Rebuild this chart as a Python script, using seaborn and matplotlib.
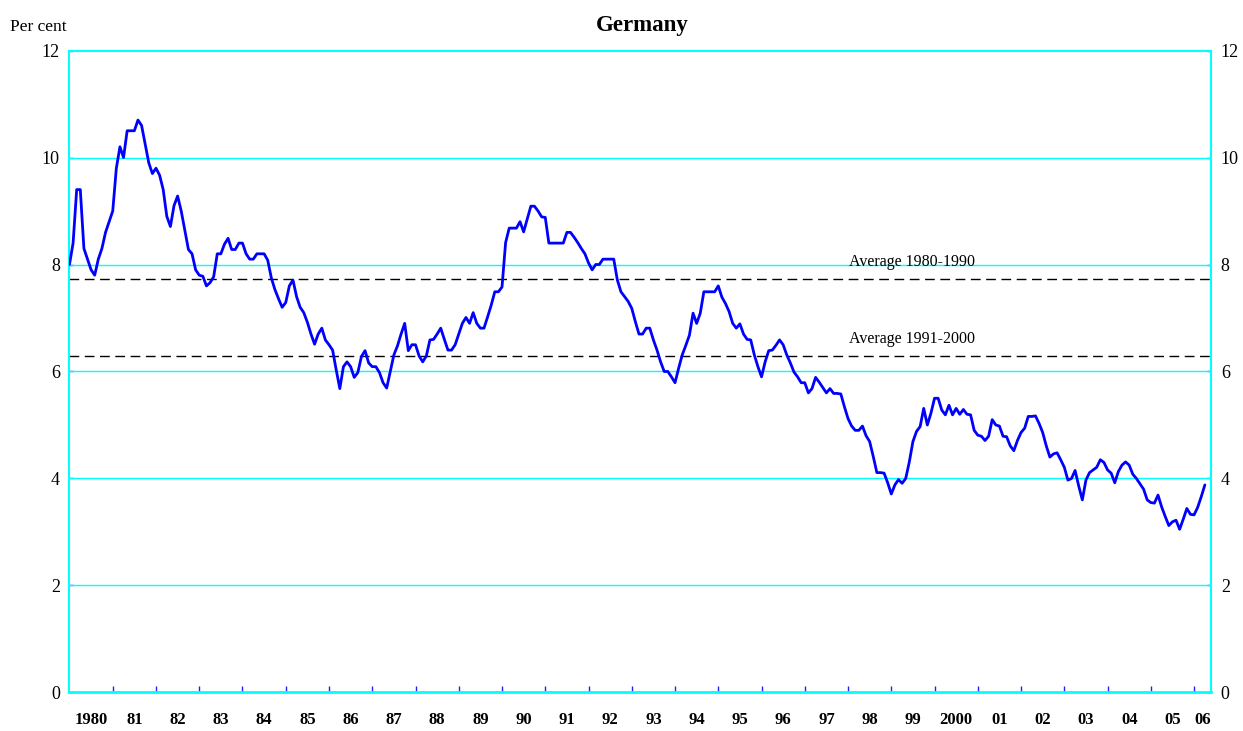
import numpy as np
import pandas as pd
import seaborn as sns
import matplotlib
matplotlib.use('Agg')
import matplotlib.pyplot as plt

# monthly long-term interest rate, Germany, per cent (Jan 1980 onwards)
yields_1980s = [
    8.0, 8.4, 9.4, 9.4, 8.3, 8.1, 7.9, 7.8, 8.1, 8.3, 8.6, 8.8,
    9.0, 9.8, 10.2, 10.0, 10.5, 10.5, 10.5, 10.7, 10.6, 10.25, 9.9, 9.7,
    9.8, 9.67, 9.4, 8.9, 8.71, 9.1, 9.28, 9.0, 8.64, 8.28, 8.2, 7.9,
    7.8, 7.78, 7.6, 7.66, 7.77, 8.2, 8.2, 8.38, 8.49, 8.28, 8.28, 8.4,
    8.4, 8.2, 8.1, 8.1, 8.2, 8.2, 8.2, 8.08, 7.75, 7.53, 7.36, 7.2,
    7.29, 7.6, 7.71, 7.4, 7.2, 7.1, 6.92, 6.7, 6.51, 6.7, 6.81, 6.59,
    6.5, 6.4, 6.03, 5.68, 6.09, 6.18, 6.09, 5.89, 5.98, 6.28, 6.39, 6.16,
    6.09, 6.09, 5.98, 5.79, 5.69, 6.0, 6.31, 6.48, 6.7, 6.9, 6.39, 6.5,
    6.5, 6.29, 6.18, 6.29, 6.59, 6.6, 6.7, 6.81, 6.6, 6.4, 6.4, 6.5,
    6.7, 6.9, 7.01, 6.9, 7.1, 6.9, 6.81, 6.81, 7.02, 7.24, 7.49, 7.49,
]
yields_1990s = [
    7.58, 8.41, 8.68, 8.68, 8.68, 8.8, 8.61, 8.85, 9.09, 9.09, 9.0, 8.89,
    8.88, 8.4, 8.4, 8.4, 8.4, 8.4, 8.6, 8.6, 8.51, 8.41, 8.3, 8.2,
    8.03, 7.9, 8.0, 8.0, 8.1, 8.1, 8.1, 8.1, 7.71, 7.49, 7.4, 7.31,
    7.18, 6.93, 6.7, 6.7, 6.81, 6.81, 6.59, 6.4, 6.18, 6.0, 6.0, 5.9,
    5.79, 6.06, 6.31, 6.49, 6.68, 7.09, 6.9, 7.09, 7.49, 7.49, 7.49, 7.49,
    7.6, 7.39, 7.27, 7.12, 6.9, 6.81, 6.89, 6.7, 6.6, 6.59, 6.31, 6.09,
    5.9, 6.18, 6.39, 6.4, 6.49, 6.59, 6.5, 6.31, 6.16, 5.99, 5.9, 5.79,
    5.79, 5.6, 5.68, 5.89, 5.8, 5.7, 5.6, 5.68, 5.59, 5.59, 5.58, 5.34,
    5.12, 4.98, 4.9, 4.9, 4.98, 4.8, 4.69, 4.41, 4.11, 4.11, 4.1, 3.92,
    3.71, 3.88, 3.98, 3.91, 4.0, 4.31, 4.69, 4.88, 4.97, 5.31, 5.0, 5.22,
]
yields_2000s = [
    5.5, 5.5, 5.28, 5.19, 5.37, 5.19, 5.31, 5.2, 5.29, 5.2, 5.19, 4.9,
    4.81, 4.79, 4.71, 4.79, 5.1, 5.0, 4.98, 4.79, 4.78, 4.61, 4.52, 4.71,
    4.86, 4.94, 5.16, 5.16, 5.17, 5.03, 4.86, 4.61, 4.4, 4.46, 4.48, 4.35,
    4.21, 3.97, 4.0, 4.15, 3.86, 3.6, 3.97, 4.11, 4.16, 4.21, 4.35, 4.3,
    4.16, 4.1, 3.92, 4.13, 4.25, 4.31, 4.25, 4.08, 4.0, 3.9, 3.8, 3.6,
    3.55, 3.54, 3.69, 3.47, 3.29, 3.12, 3.19, 3.22, 3.05, 3.24, 3.44, 3.33,
    3.32, 3.46, 3.66, 3.88,
]

avg_1980_1990 = 7.73
avg_1991_2000 = 6.29

first_year = 1980
years = list(range(1980, 2007))
year_labels = ['1980', '81', '82', '83', '84', '85', '86', '87', '88', '89',
               '90', '91', '92', '93', '94', '95', '96', '97', '98', '99',
               '2000', '01', '02', '03', '04', '05', '06']
y_ticks = [0, 2, 4, 6, 8, 10, 12]

values = yields_1980s + yields_1990s + yields_2000s
df = pd.DataFrame({
    'date': first_year + np.arange(len(values)) / 12.0,
    'rate': values,
})

sns.set_theme(style='white')
plt.rcParams['font.family'] = ['Liberation Serif', 'DejaVu Serif']
plt.rcParams['text.color'] = 'black'
plt.rcParams['xtick.labelcolor'] = 'black'
plt.rcParams['ytick.labelcolor'] = 'black'

CYAN = '#00FFFF'
BLUE = '#0000FF'

fig = plt.figure(figsize=(12.43, 7.31), dpi=100)
ax = fig.add_axes([0.0559, 0.0527, 0.9184, 0.8782])

# grid lines first so the series sits on top
for v in y_ticks[1:-1]:
    ax.axhline(v, color=CYAN, lw=1.0, zorder=1)

ax.axhline(avg_1980_1990, color='black', lw=1.0, dashes=(7, 4), zorder=2)
ax.axhline(avg_1991_2000, color='black', lw=1.0, dashes=(7, 4), zorder=2)

sns.lineplot(data=df, x='date', y='rate', ax=ax, color=BLUE, lw=2.0, zorder=3)

x_end = 2006.393
ax.set_xlim(first_year, x_end)
ax.set_ylim(0, 12)

# year boundaries as major ticks, labels centred in each year
ax.set_xticks(years[1:])
ax.set_xticklabels([])
mids = [y + 0.5 for y in years[:-1]] + [(years[-1] + x_end) / 2]
ax.set_xticks(mids, minor=True)
ax.set_xticklabels(year_labels, minor=True, fontsize=12, fontweight='bold')
ax.tick_params(axis='x', which='major', direction='in', length=4, width=1,
               color='#2020ff', bottom=True)
ax.tick_params(axis='x', which='minor', length=0, pad=14)

ax.set_yticks(y_ticks)
ax.set_yticklabels([str(v) for v in y_ticks])
ax.tick_params(axis='y', which='major', direction='in', length=3, width=1,
               color='#2020ff', left=True, right=True, labelleft=True,
               labelright=True, labelsize=13, pad=7)

for side in ['left', 'right', 'top', 'bottom']:
    ax.spines[side].set_color(CYAN)
    ax.spines[side].set_linewidth(1.5)
ax.spines['bottom'].set_linewidth(2.0)

ax.set_xlabel('')
ax.set_ylabel('')
ax.grid(False)

ax.text(1999.48, 8.05, 'Average 1980-1990', ha='center', va='center',
        fontsize=11.5, color='black', zorder=4)
ax.text(1999.48, 6.61, 'Average 1991-2000', ha='center', va='center',
        fontsize=11.5, color='black', zorder=4)

fig.text(0.517, 1 - 25 / 731, 'Germany', ha='center', va='center',
         fontsize=16.5, fontweight='bold', color='black')
fig.text(10 / 1243, 1 - 27 / 731, 'Per cent', ha='left', va='center',
         fontsize=12.5, color='black')

fig.savefig('out.png', dpi=100, facecolor='white')
